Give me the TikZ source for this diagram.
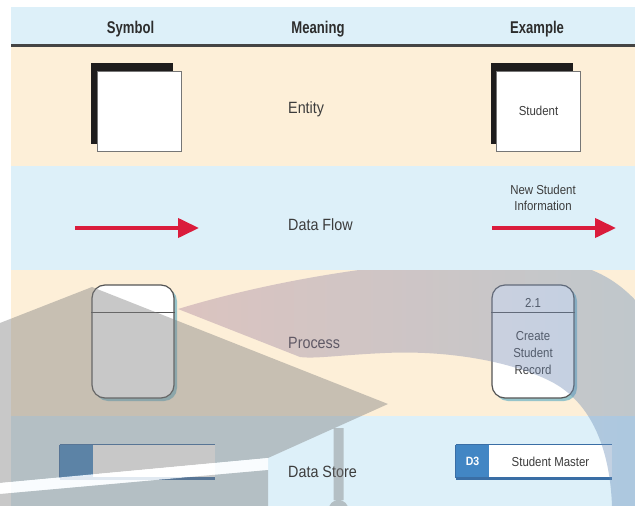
\documentclass[tikz,border=0pt]{standalone}
\usepackage{fontspec}
\setmainfont{Liberation Sans}[FakeStretch=0.88]
\newfontfamily\headfont{Liberation Sans}[FakeStretch=0.77]
\usetikzlibrary{arrows.meta}

\definecolor{rowblue}{RGB}{221,240,249}
\definecolor{rowcream}{RGB}{253,239,216}
\definecolor{rulegray}{RGB}{68,68,68}
\definecolor{headink}{RGB}{45,45,45}
\definecolor{bodyink}{RGB}{60,60,60}
\definecolor{flowred}{RGB}{218,28,60}
\definecolor{storeblue}{RGB}{66,134,196}
\definecolor{storeedge}{RGB}{58,110,165}
\definecolor{procedge}{RGB}{85,85,85}
\definecolor{procshade}{RGB}{150,196,202}
\definecolor{entityedge}{RGB}{118,118,118}
\definecolor{entitydark}{RGB}{30,28,28}
\definecolor{markgray}{RGB}{128,128,128}
\definecolor{markrose}{RGB}{170,131,156}
\definecolor{marksteel}{RGB}{100,141,186}

\tikzset{
  headtext/.style={font=\headfont\bfseries\fontsize{17}{20}\selectfont, text=headink, anchor=base, inner sep=0pt},
  meaningtext/.style={font=\fontsize{16.3}{19}\selectfont, text=bodyink, anchor=base west, inner sep=0pt},
  smalltext/.style={font=\fontsize{13}{16.6}\selectfont, text=bodyink, inner sep=0pt},
  entityback/.style={fill=entitydark, minimum width=82pt, minimum height=81pt, inner sep=0pt},
  entityface/.style={fill=white, draw=entityedge, line width=0.8pt, minimum width=84pt, minimum height=80pt, inner sep=0pt, smalltext},
  flowline/.style={draw=flowred, line width=4pt, -{Triangle[length=21pt,width=19pt]}},
  procbox/.style={fill=white, draw=procedge, line width=1.2pt, rounded corners=13pt, minimum width=82pt, minimum height=113pt, inner sep=0pt},
  procshadow/.style={fill=procshade, rounded corners=13pt, minimum width=82pt, minimum height=113pt, inner sep=0pt},
  procrule/.style={draw=procedge, line width=1.2pt},
  storeid/.style={fill=storeblue, minimum width=33pt, minimum height=33pt, inner sep=0pt, text=white, font=\bfseries\fontsize{12}{14}\selectfont},
  storebody/.style={fill=white, minimum height=33pt, inner sep=0pt, smalltext},
  storetop/.style={draw=storeedge, line width=1pt},
  storebase/.style={draw=storeedge, line width=2.6pt},
  storeside/.style={draw=storeedge, line width=1.2pt},
  markfill/.style={fill=markgray, fill opacity=0.43},
}

\begin{document}
\begin{tikzpicture}[x=1pt, y=-1pt]
\useasboundingbox (0,0) rectangle (635,506);
\fill[white] (0,0) rectangle (635,506);

% table bands
\fill[rowblue]  (11,6.5) rectangle (635,45);
\fill[rowcream] (11,47)  rectangle (635,166);
\fill[rowblue]  (11,166) rectangle (635,270);
\fill[rowcream] (11,270) rectangle (635,416);
\fill[rowblue]  (11,416) rectangle (635,506);
\draw[rulegray, line width=3pt] (11,45.7) -- (635,45.7);

% header
\node[headtext] (hSymbol)  at (130.5,33) {Symbol};
\node[headtext] (hMeaning) at (318,33) {Meaning};
\node[headtext] (hExample) at (537,33) {Example};

% meanings
\node[meaningtext] (mEntity)  at (288,113.5) {Entity};
\node[meaningtext] (mFlow)    at (288,230.8) {Data Flow};
\node[meaningtext] (mProcess) at (288,348.3) {Process};
\node[meaningtext] (mStore)   at (288,477.5) {Data Store};

% entity
\node[entityback] (eBack) at (132,103.5) {};
\node[entityface] (eFace) at (139,111) {};
\node[entityback] (xBack) at (531.5,103.5) {};
\node[entityface] (xFace) at (538.5,111) {Student};

% data flow
\coordinate (fA) at (75,228);
\coordinate (fB) at (199,228);
\draw[flowline] (fA) -- (fB);
\coordinate (gA) at (492,228);
\coordinate (gB) at (616,228);
\draw[flowline] (gA) -- (gB);
\node[smalltext, anchor=base] (fLabel1) at (543,194) {New Student};
\node[smalltext, anchor=base] (fLabel2) at (543,210.7) {Information};

% process
\node[procshadow] (pShade) at (136,344.5) {};
\node[procbox] (pBox) at (133,341.5) {};
\draw[procrule] ([yshift=-28pt]pBox.north west) -- ([yshift=-28pt]pBox.north east);
\node[procshadow] (qShade) at (536,344.5) {};
\node[procbox] (qBox) at (533,341.5) {};
\draw[procrule] ([yshift=-28pt]qBox.north west) -- ([yshift=-28pt]qBox.north east);
\node[smalltext, anchor=base] (qId) at (533,307.5) {2.1};
\node[smalltext, align=center] (qName) at (533,353) {Create\\Student\\Record};

% data store
\node[storeid] (sId) at (76.5,461.5) {};
\node[storebody, minimum width=122pt] (sBody) at (154,461.5) {};
\draw[storetop]  (sId.north west) -- (sBody.north east);
\draw[storebase] (sId.south west) -- (sBody.south east);
\draw[storeside] (sId.north west) -- (sId.south west);
\node[storeid] (tId) at (472.5,461.5) {D3};
\node[storebody, minimum width=123pt] (tBody) at (550.5,461.5) {Student Master};
\draw[storetop]  (tId.north west) -- (tBody.north east);
\draw[storebase] (tId.south west) -- (tBody.south east);
\draw[storeside] (tId.north west) -- (tId.south west);

% mortarboard emblem laid over the lower rows
\begin{scope}
\clip (0,270) rectangle (635,506);
\shade[left color=markrose, right color=marksteel, fill opacity=0.4]
  (178,309) .. controls (290,275) and (420,258) .. (520,258)
  .. controls (580,260) and (610,272) .. (640,305)
  -- (640,506) -- (612,506)
  .. controls (610,450) and (592,402) .. (550,381)
  .. controls (512,362) and (450,350) .. (385,353)
  .. controls (340,355) and (315,359) .. (300,357) -- cycle;
\fill[markfill] (0,323) -- (92,287) -- (388,404) -- (268,458) -- (0,483) -- cycle;
\fill[white, fill opacity=0.85] (0,483) -- (268,458) -- (268,470) -- (0,494) -- cycle;
\fill[markfill] (0,494) -- (268,470) -- (268,506) -- (0,506) -- cycle;
\fill[markfill] (333.5,428) rectangle (343.5,500) (338.5,510) circle[radius=10];
\end{scope}
\end{tikzpicture}
\end{document}
